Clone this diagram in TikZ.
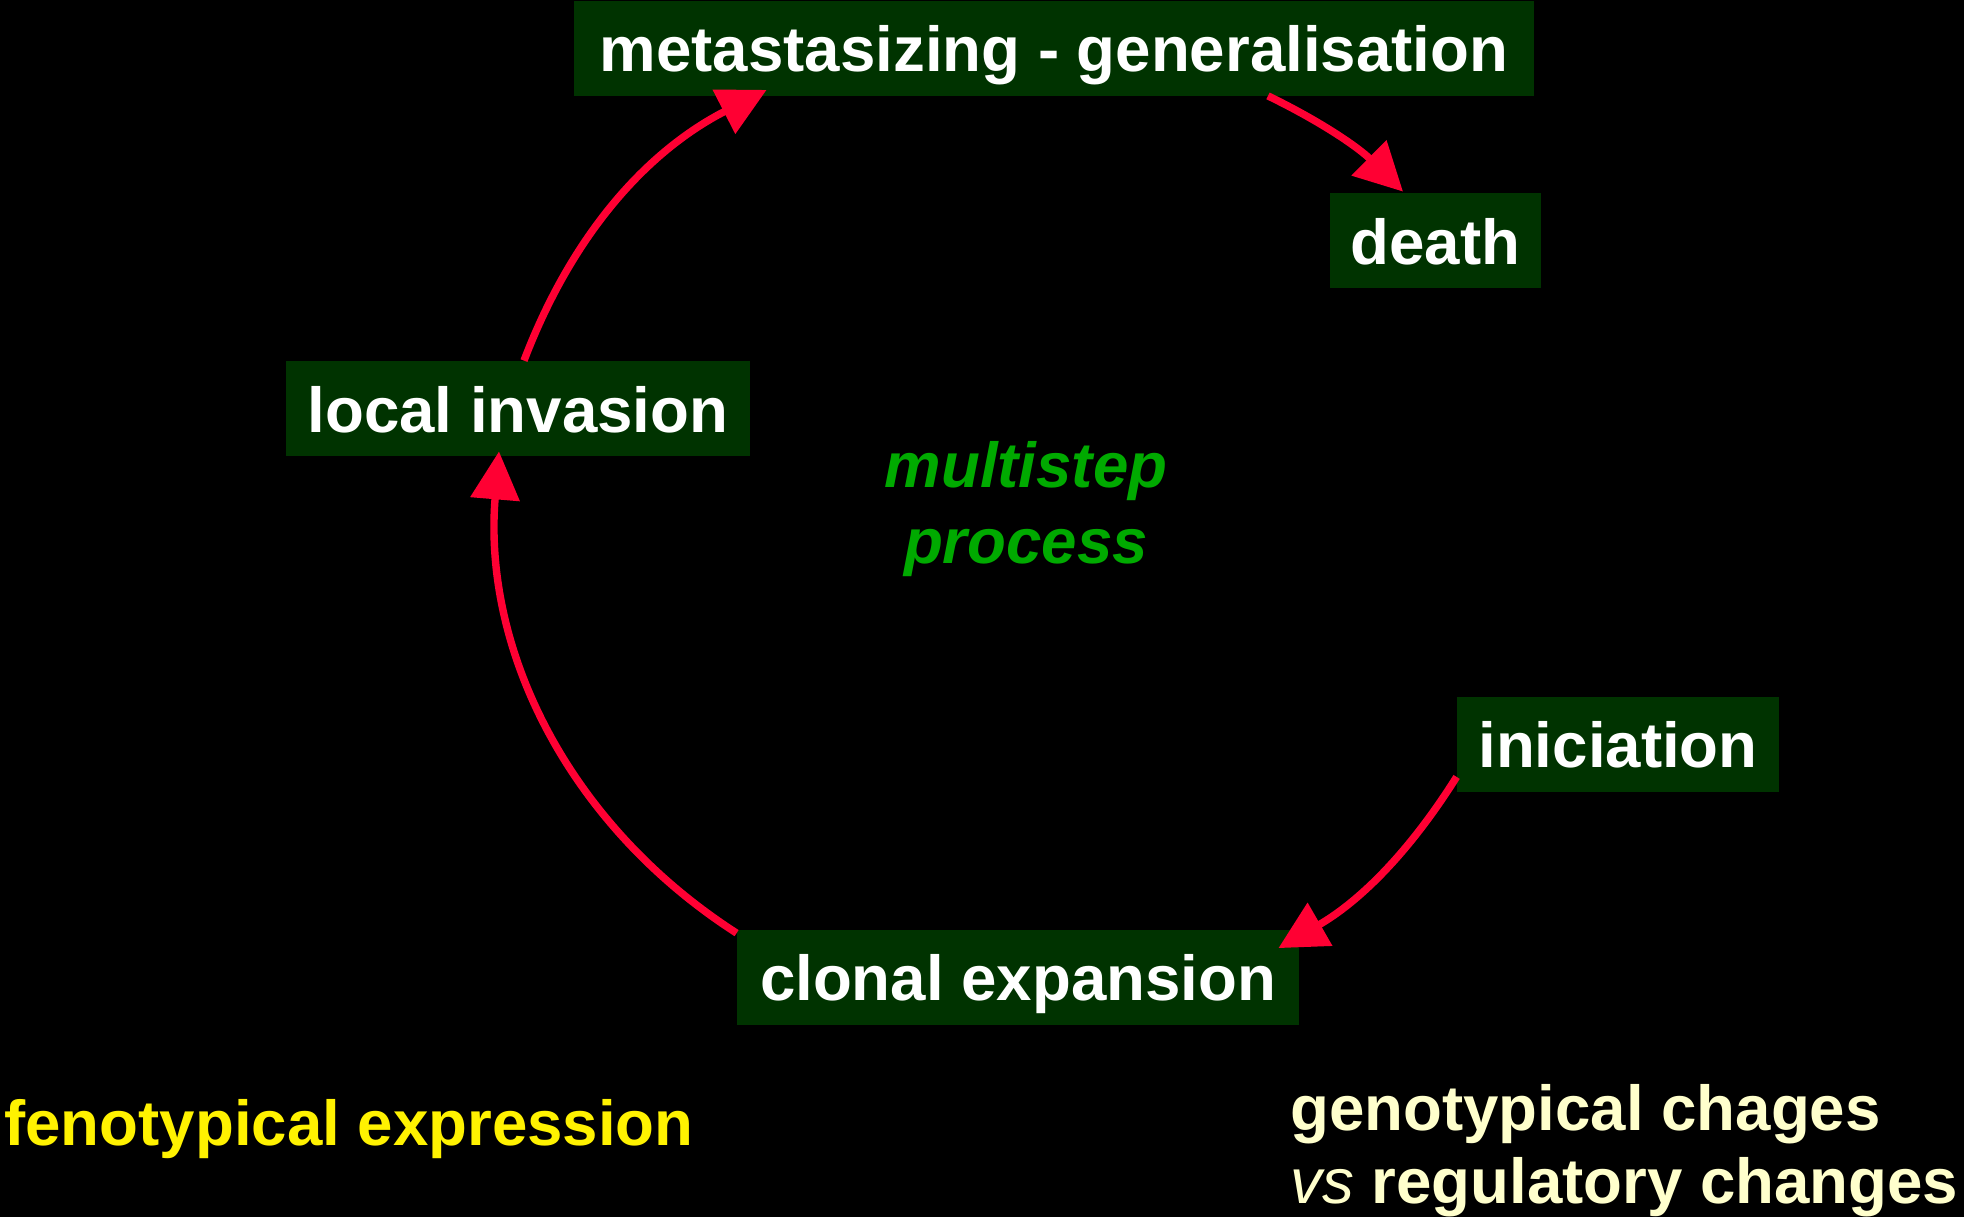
\documentclass[tikz,border=0pt]{standalone}
\usepackage{fontspec}
\setmainfont{Liberation Sans}
\usetikzlibrary{arrows.meta,calc}
\definecolor{boxgreen}{RGB}{0,51,0}
\definecolor{arrred}{RGB}{255,0,51}
\definecolor{txtgreen}{RGB}{0,170,0}
\definecolor{cream}{RGB}{255,255,204}
\begin{document}
\begin{tikzpicture}[x=0.5pt,y=-0.5pt,
  stage/.style={fill=boxgreen, text=white, font=\bfseries\fontsize{31.8}{38}\selectfont,
    inner xsep=0pt, inner ysep=0pt, text height=35.5pt, text depth=12pt, align=center},
  redarrow/.style={draw=arrred, line width=3.7pt, -{Triangle[length=24pt,width=24pt]},
    bend left=#1, looseness=0.95},
  freetext/.style={inner sep=0pt, anchor=base west, font=\bfseries\fontsize{31.8}{38}\selectfont}
]
\useasboundingbox (0,0) rectangle (1964,1216);
\fill[black] (-20,-20) rectangle (1984,1236);

\node[stage, minimum width=480pt] (meta) at (1054,48) {metastasizing - generalisation};
\node[stage, minimum width=105.5pt] (death) at (1435.5,240.5) {death};
\node[stage, minimum width=232pt] (local) at (518,408.5) {local invasion};
\node[stage, minimum width=161pt] (ini) at (1618,744) {iniciation};
\node[stage, minimum width=281pt] (clonal) at (1018,977) {clonal expansion};

\draw[redarrow=14] ($(ini.south west)+(0,-15)$) to ($(clonal.north east)+(-21,19)$);
\draw[redarrow=31] ($(clonal.north west)+(0,4)$) to ($(local.south)+(-19,-5)$);
\draw[redarrow=21] ($(local.north)+(6,0)$) to ($(meta.south west)+(193,-6)$);
\draw[redarrow=9.4] ($(meta.south)+(214,0)$) to ($(death.north)+(-32.5,-1)$);

\node[text=txtgreen, font=\bfseries\itshape\fontsize{31.8}{37.6}\selectfont, align=center, inner sep=0pt] (ms) at (1026,509) {multistep\\process};

\node[freetext, text=yellow] (feno) at (4,1145) {fenotypical expression};
\node[freetext, text=cream] (geno1) at (1290,1130) {genotypical chages};
\node[freetext, text=cream] (geno2) at (1290,1203) {{\mdseries\itshape vs} regulatory changes};
\end{tikzpicture}
\end{document}
